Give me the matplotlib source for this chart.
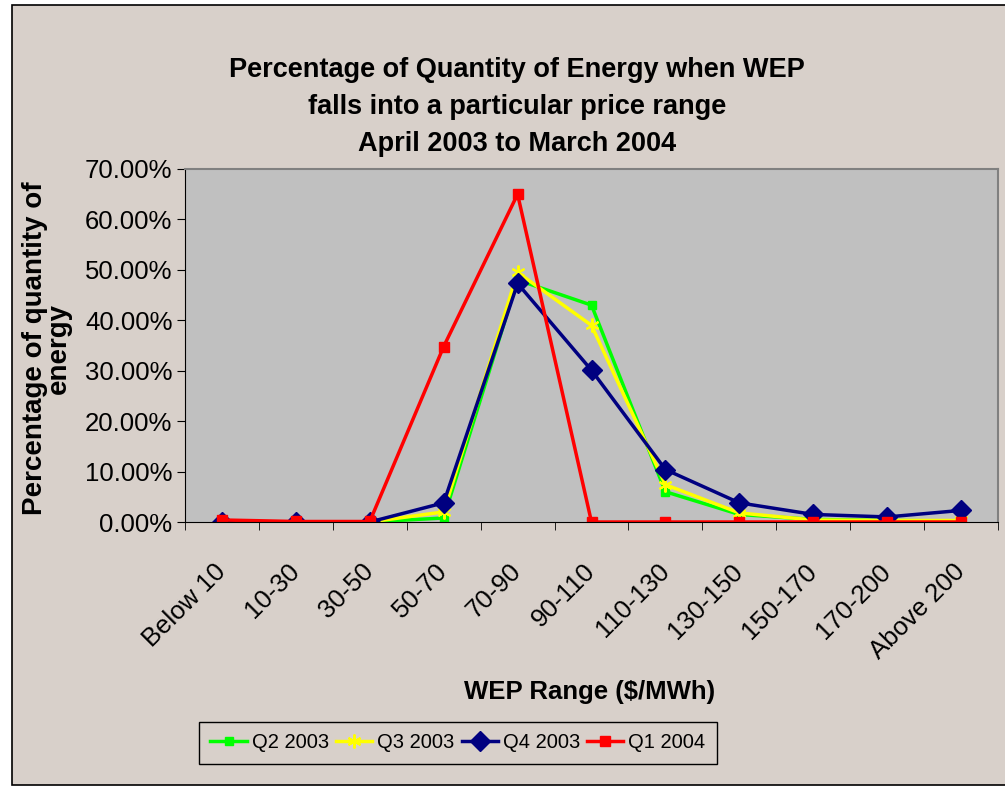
import matplotlib.pyplot as plt
from matplotlib.ticker import FuncFormatter, FixedLocator
from matplotlib.patches import Rectangle

plt.rcParams['font.family'] = ['Liberation Sans', 'DejaVu Sans']

categories = ["Below 10", "10-30", "30-50", "50-70", "70-90", "90-110",
              "110-130", "130-150", "150-170", "170-200", "Above 200"]
q2_2003 = [0.0, 0.0, 0.0, 0.8, 48.0, 43.0, 6.0, 1.5, 0.5, 0.3, 0.2]
q3_2003 = [0.0, 0.0, 0.0, 2.0, 49.5, 39.0, 7.4, 1.8, 0.4, 0.3, 0.3]
q4_2003 = [0.0, 0.0, 0.0, 3.8, 47.3, 30.1, 10.4, 3.8, 1.5, 1.0, 2.3]
q1_2004 = [0.4, 0.1, 0.1, 34.8, 65.0, 0.0, 0.0, 0.0, 0.0, 0.0, 0.0]

bg = '#d8d0ca'
fig = plt.figure(figsize=(10.05, 7.89), dpi=100, facecolor='white')
fig.patches.append(Rectangle((12 / 1005, 4 / 789), 1.0, 780 / 789, transform=fig.transFigure,
                             facecolor=bg, edgecolor='black', linewidth=1.2, zorder=-1))

ax = fig.add_axes([185 / 1005, 1 - 522 / 789, (998 - 185) / 1005, (522 - 169) / 789])
ax.set_facecolor('#c0c0c0')

x = list(range(len(categories)))
ax.plot(x, q2_2003, color='#00ff00', lw=2.5, marker='s', ms=6, label='Q2 2003')
ax.plot(x, q3_2003, color='#ffff00', lw=2.5, marker=(6, 2, 0), ms=10, mew=1.5, label='Q3 2003')
ax.plot(x, q4_2003, color='#000080', lw=2.5, marker='D', ms=10, label='Q4 2003')
ax.plot(x, q1_2004, color='#ff0000', lw=2.5, marker='s', ms=7, label='Q1 2004')

ax.set_xlim(-0.5, len(categories) - 0.5)
ax.set_ylim(0, 70)
ax.set_yticks(range(0, 71, 10))
ax.yaxis.set_major_formatter(FuncFormatter(lambda v, p: f"{v:.2f}%"))
ax.tick_params(axis='y', labelsize=18.5, length=6, direction='out', pad=3)

ax.set_xticks(x)
ax.set_xticklabels(categories, rotation=45, ha='right', va='center', rotation_mode='anchor', fontsize=18.5)
ax.tick_params(axis='x', which='major', length=0, pad=33)
ax.xaxis.set_minor_locator(FixedLocator([i - 0.5 for i in range(len(categories) + 1)]))
ax.tick_params(axis='x', which='minor', length=6, direction='out')

for s in ['top', 'right']:
    ax.spines[s].set_color('#808080')
    ax.spines[s].set_linewidth(1.5)
ax.spines['left'].set_color('black')
ax.spines['bottom'].set_color('black')

ax.set_xlabel("WEP Range ($/MWh)", fontsize=18.5, fontweight='bold')
ax.xaxis.set_label_coords(590 / 1005, 1 - 692 / 789, transform=fig.transFigure)
ax.xaxis.label.set_verticalalignment('center')

ax.set_ylabel("Percentage of quantity of\nenergy", fontsize=20, fontweight='bold',
              linespacing=0.92)
ax.yaxis.set_label_coords(47 / 1005, 1 - 348 / 789, transform=fig.transFigure)
ax.yaxis.label.set_verticalalignment('center')

fig.text(517 / 1005, 1 - 107 / 789,
         "Percentage of Quantity of Energy when WEP\nfalls into a particular price range\nApril 2003 to March 2004",
         ha='center', va='center', fontsize=19.5, fontweight='bold', linespacing=1.55)

leg = fig.legend(loc='center', bbox_to_anchor=(458 / 1005, 1 - 743 / 789), ncol=4, fontsize=14.5,
                 frameon=True, fancybox=False, edgecolor='black', facecolor=bg, framealpha=1,
                 handlelength=1.8, columnspacing=0.35, handletextpad=0.25, borderpad=0.55)
leg.get_frame().set_linewidth(1.0)

fig.savefig('out.png', dpi=100, facecolor='white')
